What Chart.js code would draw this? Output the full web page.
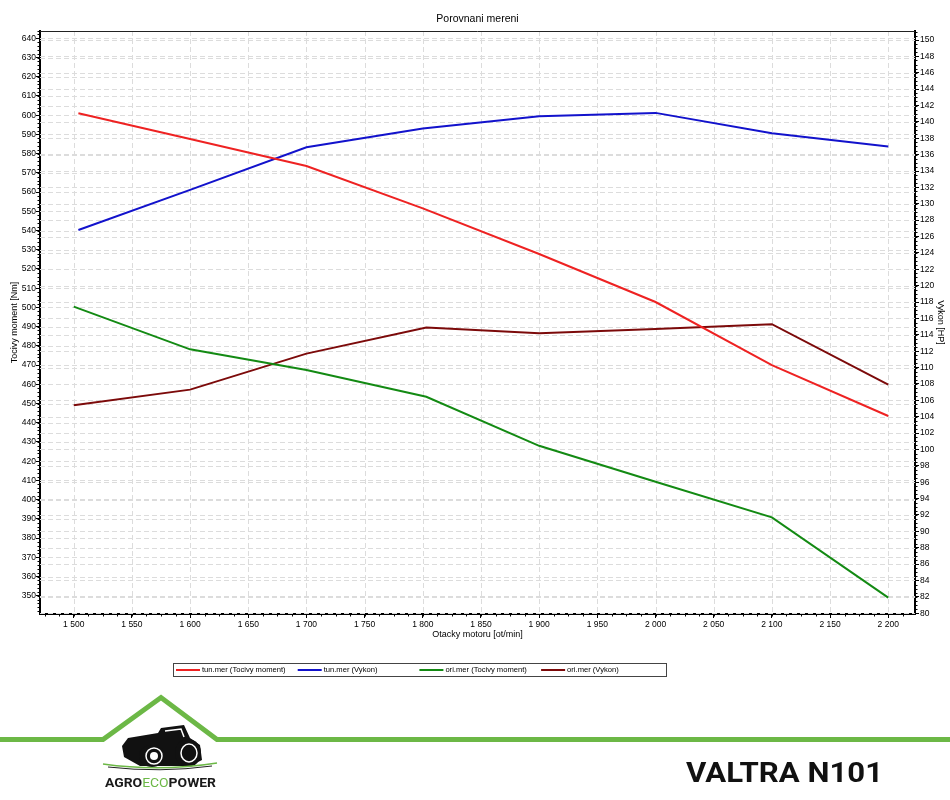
<!DOCTYPE html>
<html><head><meta charset="utf-8">
<script src="https://cdn.jsdelivr.net/npm/chart.js@4/dist/chart.umd.min.js"></script>
<style>html,body{margin:0;padding:0;background:#fff}canvas{display:block}</style>
</head><body>
<canvas id="c" width="950" height="800"></canvas>
<script>
const titleText = 'Porovnani mereni';
const xTitle = 'Otacky motoru [ot/min]';
const yLeftTitle = 'Tocivy moment [Nm]';
const yRightTitle = 'Vykon [HP]';
const seriesNames = ['tun.mer (Tocivy moment)', 'tun.mer (Vykon)', 'ori.mer (Tocivy moment)', 'ori.mer (Vykon)'];
const brandLeft = ['AGRO', 'ECO', 'POWER'];
const brandRight = 'VALTRA N101';

const tunRpm = [1504, 1600, 1700, 1800, 1900, 2000, 2100, 2200];
const oriRpm = [1500, 1600, 1700, 1803, 1900, 2000, 2100, 2200];
const tunTorque = [601.0, 587.6, 573.6, 551.5, 527.8, 502.8, 470.0, 443.5];
const tunPower = [126.8, 131.7, 136.9, 139.2, 140.7, 141.1, 138.6, 137.0];
const oriTorque = [500.4, 478.2, 467.4, 453.5, 428.0, 409.3, 390.8, 349.0];
const oriPower = [105.4, 107.3, 111.7, 114.9, 114.2, 114.7, 115.3, 107.9];

const xTicks = [1500, 1550, 1600, 1650, 1700, 1750, 1800, 1850, 1900, 1950, 2000, 2050, 2100, 2150, 2200];
const yLeftTicks = [350, 360, 370, 380, 390, 400, 410, 420, 430, 440, 450, 460, 470, 480, 490, 500, 510, 520, 530, 540, 550, 560, 570, 580, 590, 600, 610, 620, 630, 640];
const yRightTicks = [80, 82, 84, 86, 88, 90, 92, 94, 96, 98, 100, 102, 104, 106, 108, 110, 112, 114, 116, 118, 120, 122, 124, 126, 128, 130, 132, 134, 136, 138, 140, 142, 144, 146, 148, 150];

const colors = ['#ee2222', '#1212cc', '#138a13', '#7c0a0a'];
const FONT = 'Liberation Sans, Arial, sans-serif';

function pts(xs, ys) { return xs.map((x, i) => ({ x: x, y: ys[i] })); }
function fmtRpm(v) { const s = String(v); return s.length > 3 ? s.slice(0, s.length - 3) + ' ' + s.slice(-3) : s; }

function fillTextWidth(ctx, text, x, y, w) {
  const m = ctx.measureText(text).width;
  ctx.save(); ctx.translate(x, y); ctx.scale(w / m, 1); ctx.fillText(text, 0, 0); ctx.restore();
  return w;
}

const gridPlugin = {
  id: 'gridPlugin',
  beforeDatasetsDraw(chart) {
    const ctx = chart.ctx, ca = chart.chartArea;
    const sx = chart.scales.x, sl = chart.scales.yL, sr = chart.scales.yR;
    ctx.save();
    ctx.beginPath(); ctx.rect(ca.left, ca.top, ca.right - ca.left, ca.bottom - ca.top); ctx.clip();
    ctx.strokeStyle = '#dcdcdc'; ctx.lineWidth = 1; ctx.setLineDash([5, 3]);
    xTicks.forEach(v => { const p = Math.round(sx.getPixelForValue(v)) + 0.5; ctx.beginPath(); ctx.moveTo(p, ca.top); ctx.lineTo(p, ca.bottom); ctx.stroke(); });
    yLeftTicks.forEach(v => { const p = Math.round(sl.getPixelForValue(v)) + 0.5; ctx.beginPath(); ctx.moveTo(ca.left, p); ctx.lineTo(ca.right, p); ctx.stroke(); });
    yRightTicks.forEach(v => { const p = Math.round(sr.getPixelForValue(v)) + 0.5; ctx.beginPath(); ctx.moveTo(ca.left, p); ctx.lineTo(ca.right, p); ctx.stroke(); });
    ctx.restore();
  },
  afterDraw(chart) {
    const ctx = chart.ctx, ca = chart.chartArea;
    const sx = chart.scales.x, sl = chart.scales.yL, sr = chart.scales.yR;
    ctx.save();
    ctx.strokeStyle = '#222'; ctx.lineWidth = 1;
    ctx.beginPath(); ctx.moveTo(ca.left, Math.round(ca.top) + 0.5); ctx.lineTo(ca.right, Math.round(ca.top) + 0.5); ctx.stroke();
    ctx.strokeStyle = '#000';
    for (let v = 1475; v <= 2225; v += 12.5) {
      const p = Math.round(sx.getPixelForValue(v)) + 0.5;
      if (p < ca.left || p > ca.right) continue;
      ctx.beginPath(); ctx.moveTo(p, ca.bottom); ctx.lineTo(p, ca.bottom + 2.5); ctx.stroke();
    }
    for (let v = 342; v <= 644; v += 2) {
      const p = Math.round(sl.getPixelForValue(v)) + 0.5;
      if (p < ca.top || p > ca.bottom) continue;
      ctx.beginPath(); ctx.moveTo(ca.left - 2.5, p); ctx.lineTo(ca.left, p); ctx.stroke();
    }
    for (let v = 80; v <= 151; v += 0.5) {
      const p = Math.round(sr.getPixelForValue(v)) + 0.5;
      if (p < ca.top || p > ca.bottom) continue;
      ctx.beginPath(); ctx.moveTo(ca.right, p); ctx.lineTo(ca.right + 2.5, p); ctx.stroke();
    }
    ctx.fillStyle = '#000'; ctx.font = '10.5px ' + FONT; ctx.textAlign = 'center'; ctx.textBaseline = 'middle';
    ctx.fillText(titleText, (ca.left + ca.right) / 2, 19);
    const lx = 173, ly = 663, lw = 493, lh = 13;
    ctx.strokeStyle = '#444'; ctx.lineWidth = 1;
    ctx.strokeRect(lx + 0.5, ly + 0.5, lw, lh);
    ctx.font = '7.6px ' + FONT; ctx.textAlign = 'left'; ctx.textBaseline = 'middle';
    chart.data.datasets.forEach((d, i) => {
      const x0 = lx + 3 + i * 121.7;
      ctx.strokeStyle = d.borderColor; ctx.lineWidth = 2;
      ctx.beginPath(); ctx.moveTo(x0, ly + 7); ctx.lineTo(x0 + 24, ly + 7); ctx.stroke();
      ctx.fillStyle = '#000';
      ctx.fillText(d.label, x0 + 26, ly + 7);
    });
    drawBrand(ctx);
    ctx.restore();
  }
};

function drawBrand(ctx) {
  const G = '#6cb846';
  ctx.save();
  ctx.strokeStyle = G; ctx.lineWidth = 5; ctx.lineJoin = 'miter'; ctx.setLineDash([]);
  ctx.beginPath(); ctx.moveTo(0, 739.5); ctx.lineTo(103, 739.5); ctx.lineTo(161, 697.5); ctx.lineTo(217, 739.5); ctx.lineTo(950, 739.5); ctx.stroke();
  ctx.fillStyle = '#111';
  ctx.beginPath();
  ctx.moveTo(124, 757); ctx.lineTo(122, 746); ctx.lineTo(128, 738); ctx.lineTo(158, 733);
  ctx.lineTo(161, 728); ctx.lineTo(184, 725); ctx.lineTo(190, 738); ctx.lineTo(200, 745);
  ctx.lineTo(202, 760); ctx.lineTo(190, 766); ctx.lineTo(140, 766); ctx.closePath(); ctx.fill();
  ctx.beginPath(); ctx.ellipse(188, 753, 13, 14, 0, 0, Math.PI * 2); ctx.fill();
  ctx.beginPath(); ctx.ellipse(152, 756, 13, 11, 0, 0, Math.PI * 2); ctx.fill();
  ctx.strokeStyle = '#fff'; ctx.lineWidth = 1.5;
  ctx.beginPath(); ctx.ellipse(154, 756, 8, 8, 0, 0, Math.PI * 2); ctx.stroke();
  ctx.beginPath(); ctx.ellipse(189, 753, 8, 9, 0, 0, Math.PI * 2); ctx.stroke();
  ctx.beginPath(); ctx.moveTo(165, 731); ctx.lineTo(181, 729); ctx.lineTo(184, 737); ctx.stroke();
  ctx.fillStyle = '#fff';
  ctx.beginPath(); ctx.ellipse(154, 756, 4, 4, 0, 0, Math.PI * 2); ctx.fill();
  ctx.strokeStyle = G; ctx.lineWidth = 1.5;
  ctx.beginPath(); ctx.moveTo(103, 764); ctx.quadraticCurveTo(160, 772, 217, 763); ctx.stroke();
  ctx.strokeStyle = '#222'; ctx.lineWidth = 1;
  ctx.beginPath(); ctx.moveTo(108, 767); ctx.quadraticCurveTo(160, 773, 212, 766); ctx.stroke();
  ctx.textBaseline = 'alphabetic'; ctx.textAlign = 'left';
  // AGROECOPOWER, stretched to the logo width
  const fonts = ['bold 13px Roboto', '13px Roboto', 'bold 13px Roboto'];
  const cols = ['#1a1a1a', G, '#1a1a1a'];
  let total = 0;
  brandLeft.forEach((t, i) => { ctx.font = fonts[i]; total += ctx.measureText(t).width; });
  const k = 111 / total;
  let x = 105;
  brandLeft.forEach((t, i) => {
    ctx.font = fonts[i]; ctx.fillStyle = cols[i];
    const w = ctx.measureText(t).width * k;
    fillTextWidth(ctx, t, x, 787, w); x += w;
  });
  ctx.font = 'bold 28px Roboto'; ctx.fillStyle = '#111';
  fillTextWidth(ctx, brandRight, 686, 782, 197);
  ctx.restore();
}

const datasets = [
  { label: seriesNames[0], data: pts(tunRpm, tunTorque), yAxisID: 'yL', borderColor: colors[0] },
  { label: seriesNames[1], data: pts(tunRpm, tunPower), yAxisID: 'yR', borderColor: colors[1] },
  { label: seriesNames[2], data: pts(oriRpm, oriTorque), yAxisID: 'yL', borderColor: colors[2] },
  { label: seriesNames[3], data: pts(oriRpm, oriPower), yAxisID: 'yR', borderColor: colors[3] }
].map(d => Object.assign(d, { borderWidth: 2, pointRadius: 0, tension: 0, fill: false }));

const tickFont = { family: FONT, size: 8.5 };
const titleFont = { family: FONT, size: 9 };

new Chart(document.getElementById('c'), {
  type: 'line',
  data: { datasets: datasets },
  options: {
    responsive: false, animation: false, devicePixelRatio: 1,
    layout: { padding: { top: 31, left: 0, right: 0, bottom: 0 } },
    plugins: { legend: { display: false }, title: { display: false }, tooltip: { enabled: false } },
    scales: {
      x: {
        type: 'linear', min: 1471, max: 2223,
        afterBuildTicks: s => { s.ticks = xTicks.map(v => ({ value: v })); },
        ticks: { callback: v => fmtRpm(v), autoSkip: false, maxRotation: 0, font: tickFont, color: '#000', padding: 2 },
        grid: { drawOnChartArea: false, tickLength: 4, tickColor: '#000' },
        border: { color: '#000', width: 2 },
        title: { display: true, text: xTitle, font: titleFont, color: '#000', padding: { top: 0, bottom: 160 } },
        afterFit: s => { s.height = 186; }
      },
      yL: {
        type: 'linear', position: 'left', min: 340.5, max: 643.8,
        afterBuildTicks: s => { s.ticks = yLeftTicks.map(v => ({ value: v })); },
        ticks: { autoSkip: false, font: tickFont, color: '#000', padding: 0 },
        grid: { drawOnChartArea: false, tickLength: 4, tickColor: '#000' },
        border: { color: '#000', width: 2 },
        title: { display: true, text: yLeftTitle, font: titleFont, color: '#000', padding: { top: 9, bottom: 0 } },
        afterFit: s => { s.width = 40; }
      },
      yR: {
        type: 'linear', position: 'right', min: 79.9, max: 151.1,
        afterBuildTicks: s => { s.ticks = yRightTicks.map(v => ({ value: v })); },
        ticks: { autoSkip: false, font: tickFont, color: '#000', padding: 1 },
        grid: { drawOnChartArea: false, tickLength: 4, tickColor: '#000' },
        border: { color: '#000', width: 2 },
        title: { display: true, text: yRightTitle, font: titleFont, color: '#000', padding: { top: 4, bottom: 0 } },
        afterFit: s => { s.width = 35; }
      }
    }
  },
  plugins: [gridPlugin]
});
</script>
</body></html>
